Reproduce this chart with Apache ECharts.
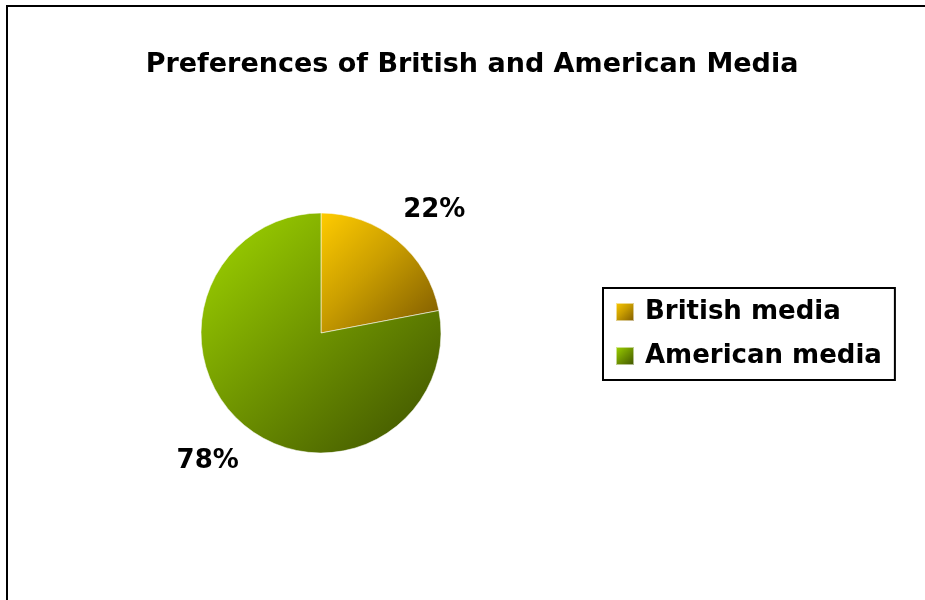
<!DOCTYPE html>
<html>
<head>
<meta charset="utf-8">
<title>Preferences of British and American Media</title>
<script src="https://cdn.jsdelivr.net/npm/echarts@6/dist/echarts.min.js"></script>
<style>
  html, body { margin: 0; padding: 0; background: #ffffff; overflow: hidden; }
  #chart { width: 925px; height: 600px; }
</style>
</head>
<body>
<div id="chart"></div>
<script>
// Survey shares, in percent
const categories = ['British media', 'American media'];
const shares = [22, 78];

// Shaded fills for each slice (light corner to dark corner)
const fills = [
  { type: 'linear', x: 0, y: 0, x2: 1, y2: 1,
    colorStops: [
      { offset: 0, color: '#ffcc00' },
      { offset: 0.45, color: '#c99d00' },
      { offset: 1, color: '#7a5700' }
    ] },
  { type: 'linear', x: 0.1, y: 0.1, x2: 0.85, y2: 0.9,
    colorStops: [
      { offset: 0, color: '#97ca00' },
      { offset: 0.5, color: '#6f9400' },
      { offset: 1, color: '#485f00' }
    ] }
];

const FONT = 'DejaVu Sans';
const center = [321, 333];
const radius = 120;

const slices = categories.map((name, i) => ({
  name: name,
  value: shares[i],
  itemStyle: { color: fills[i] }
}));

const chart = echarts.init(document.getElementById('chart'), null, { renderer: 'canvas' });

chart.setOption({
  animation: false,
  backgroundColor: '#ffffff',
  title: {
    text: 'Preferences of British and American Media',
    left: 472,
    top: 51,
    padding: 0,
    textAlign: 'center',
    textStyle: { fontFamily: FONT, fontWeight: 'bold', fontSize: 27, color: '#000000' }
  },
  legend: {
    orient: 'vertical',
    left: 603,
    top: 288,
    padding: [11, 13, 11, 12],
    borderColor: '#000000',
    borderWidth: 2,
    itemWidth: 18,
    itemHeight: 18,
    itemGap: 18,
    icon: 'rect',
    data: categories,
    textStyle: {
      fontFamily: FONT, fontWeight: 'bold', fontSize: 26, color: '#000000',
      lineHeight: 26, padding: [0, 0, 0, 6]
    },
    selectedMode: false
  },
  // Chart-area frame
  graphic: [{
    type: 'rect',
    silent: true,
    shape: { x: 7, y: 6, width: 1000, height: 1000 },
    style: { fill: 'none', stroke: '#000000', lineWidth: 2 }
  }],
  series: [
    {
      name: 'Preferences',
      type: 'pie',
      center: center,
      radius: radius,
      startAngle: 90,
      clockwise: true,
      silent: true,
      label: { show: false },
      labelLine: { show: false },
      itemStyle: { borderColor: 'rgba(255,255,255,0.55)', borderWidth: 1 },
      data: slices
    },
    {
      // Percentage labels sit on a wider invisible ring around the pie
      name: 'Labels',
      type: 'pie',
      center: center,
      radius: 332,
      startAngle: 87.5,
      clockwise: true,
      silent: true,
      itemStyle: { color: 'rgba(0,0,0,0)' },
      label: {
        show: true,
        position: 'inside',
        offset: [0, 3],
        formatter: '{c}%',
        fontFamily: FONT, fontWeight: 'bold', fontSize: 26, color: '#000000'
      },
      labelLine: { show: false },
      data: categories.map((name, i) => ({ name: name, value: shares[i] }))
    }
  ]
});
</script>
</body>
</html>
